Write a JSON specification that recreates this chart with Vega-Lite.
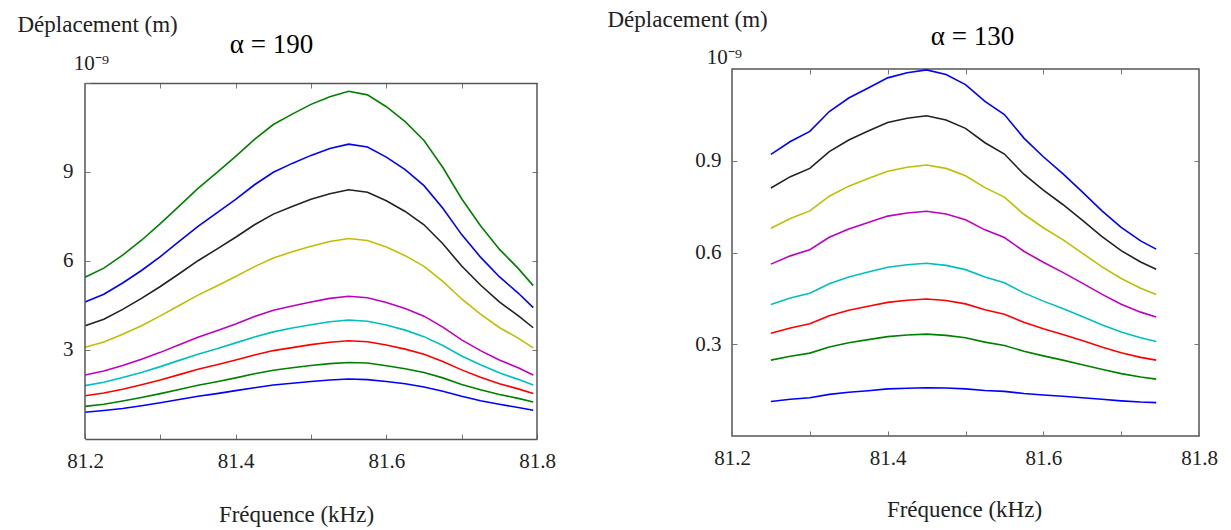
{
  "$schema": "https://vega.github.io/schema/vega-lite/v6.json",
  "padding": {"left": 17, "top": 7, "right": 5, "bottom": 2},
  "spacing": 50,
  "resolve": {"scale": {"x": "independent", "y": "independent"}},
  "config": {
    "view": {"stroke": "#555555", "strokeWidth": 1.5},
    "font": "Liberation Serif",
    "axis": {
      "labelFont": "Liberation Serif", "titleFont": "Liberation Serif",
      "labelColor": "#222222", "titleColor": "#222222", "titleFontWeight": "normal",
      "grid": false, "domain": false, "tickColor": "#777777", "tickSize": -5, "tickWidth": 1,
      "labelFlush": false, "labelOverlap": false, "labelFontSize": 21, "titleFontSize": 23
    }
  },
  "datasets": {
    "left": [
      {"f": 81.2, "s1": 0.90, "s2": 1.10, "s3": 1.46, "s4": 1.80, "s5": 2.16, "s6": 3.09, "s7": 3.82, "s8": 4.62, "s9": 5.45},
      {"f": 81.225, "s1": 0.96, "s2": 1.17, "s3": 1.55, "s4": 1.91, "s5": 2.29, "s6": 3.27, "s7": 4.04, "s8": 4.88, "s9": 5.76},
      {"f": 81.25, "s1": 1.03, "s2": 1.28, "s3": 1.68, "s4": 2.07, "s5": 2.48, "s6": 3.53, "s7": 4.37, "s8": 5.26, "s9": 6.20},
      {"f": 81.275, "s1": 1.12, "s2": 1.40, "s3": 1.83, "s4": 2.24, "s5": 2.69, "s6": 3.82, "s7": 4.74, "s8": 5.68, "s9": 6.70},
      {"f": 81.3, "s1": 1.22, "s2": 1.53, "s3": 1.99, "s4": 2.44, "s5": 2.92, "s6": 4.15, "s7": 5.14, "s8": 6.15, "s9": 7.26},
      {"f": 81.325, "s1": 1.33, "s2": 1.67, "s3": 2.17, "s4": 2.65, "s5": 3.18, "s6": 4.50, "s7": 5.57, "s8": 6.66, "s9": 7.85},
      {"f": 81.35, "s1": 1.44, "s2": 1.81, "s3": 2.35, "s4": 2.86, "s5": 3.43, "s6": 4.85, "s7": 6.01, "s8": 7.17, "s9": 8.45},
      {"f": 81.375, "s1": 1.53, "s2": 1.93, "s3": 2.50, "s4": 3.04, "s5": 3.65, "s6": 5.16, "s7": 6.40, "s8": 7.62, "s9": 8.98},
      {"f": 81.4, "s1": 1.63, "s2": 2.06, "s3": 2.66, "s4": 3.24, "s5": 3.88, "s6": 5.48, "s7": 6.80, "s8": 8.08, "s9": 9.53},
      {"f": 81.425, "s1": 1.73, "s2": 2.20, "s3": 2.83, "s4": 3.44, "s5": 4.13, "s6": 5.81, "s7": 7.22, "s8": 8.57, "s9": 10.10},
      {"f": 81.45, "s1": 1.82, "s2": 2.32, "s3": 2.98, "s4": 3.61, "s5": 4.34, "s6": 6.10, "s7": 7.58, "s8": 8.99, "s9": 10.60},
      {"f": 81.475, "s1": 1.88, "s2": 2.40, "s3": 3.08, "s4": 3.74, "s5": 4.48, "s6": 6.31, "s7": 7.84, "s8": 9.29, "s9": 10.95},
      {"f": 81.5, "s1": 1.94, "s2": 2.48, "s3": 3.18, "s4": 3.85, "s5": 4.62, "s6": 6.50, "s7": 8.08, "s8": 9.56, "s9": 11.28},
      {"f": 81.525, "s1": 1.99, "s2": 2.54, "s3": 3.26, "s4": 3.95, "s5": 4.74, "s6": 6.66, "s7": 8.27, "s8": 9.79, "s9": 11.54},
      {"f": 81.55, "s1": 2.02, "s2": 2.58, "s3": 3.31, "s4": 4.01, "s5": 4.81, "s6": 6.76, "s7": 8.40, "s8": 9.94, "s9": 11.72},
      {"f": 81.575, "s1": 2.00, "s2": 2.56, "s3": 3.28, "s4": 3.97, "s5": 4.76, "s6": 6.69, "s7": 8.32, "s8": 9.84, "s9": 11.60},
      {"f": 81.6, "s1": 1.94, "s2": 2.47, "s3": 3.17, "s4": 3.84, "s5": 4.60, "s6": 6.47, "s7": 8.03, "s8": 9.50, "s9": 11.20},
      {"f": 81.625, "s1": 1.86, "s2": 2.37, "s3": 3.03, "s4": 3.67, "s5": 4.40, "s6": 6.18, "s7": 7.67, "s8": 9.08, "s9": 10.70},
      {"f": 81.65, "s1": 1.75, "s2": 2.24, "s3": 2.86, "s4": 3.45, "s5": 4.14, "s6": 5.82, "s7": 7.22, "s8": 8.54, "s9": 10.06},
      {"f": 81.675, "s1": 1.61, "s2": 2.06, "s3": 2.61, "s4": 3.15, "s5": 3.77, "s6": 5.31, "s7": 6.58, "s8": 7.78, "s9": 9.15},
      {"f": 81.7, "s1": 1.44, "s2": 1.84, "s3": 2.33, "s4": 2.80, "s5": 3.34, "s6": 4.72, "s7": 5.83, "s8": 6.89, "s9": 8.10},
      {"f": 81.725, "s1": 1.29, "s2": 1.66, "s3": 2.08, "s4": 2.50, "s5": 2.98, "s6": 4.21, "s7": 5.19, "s8": 6.13, "s9": 7.19},
      {"f": 81.75, "s1": 1.17, "s2": 1.50, "s3": 1.86, "s4": 2.23, "s5": 2.66, "s6": 3.76, "s7": 4.62, "s8": 5.47, "s9": 6.40},
      {"f": 81.775, "s1": 1.06, "s2": 1.37, "s3": 1.69, "s4": 2.01, "s5": 2.40, "s6": 3.40, "s7": 4.16, "s8": 4.92, "s9": 5.75},
      {"f": 81.795, "s1": 0.97, "s2": 1.25, "s3": 1.53, "s4": 1.82, "s5": 2.16, "s6": 3.07, "s7": 3.75, "s8": 4.43, "s9": 5.17}
    ],
    "right": [
      {"f": 81.25, "s1": 0.113, "s2": 0.248, "s3": 0.336, "s4": 0.430, "s5": 0.562, "s6": 0.679, "s7": 0.811, "s8": 0.921},
      {"f": 81.275, "s1": 0.120, "s2": 0.261, "s3": 0.353, "s4": 0.451, "s5": 0.589, "s6": 0.711, "s7": 0.848, "s8": 0.963},
      {"f": 81.3, "s1": 0.125, "s2": 0.271, "s3": 0.367, "s4": 0.467, "s5": 0.609, "s6": 0.736, "s7": 0.875, "s8": 0.996},
      {"f": 81.325, "s1": 0.136, "s2": 0.291, "s3": 0.393, "s4": 0.498, "s5": 0.650, "s6": 0.784, "s7": 0.930, "s8": 1.061},
      {"f": 81.35, "s1": 0.143, "s2": 0.305, "s3": 0.411, "s4": 0.520, "s5": 0.677, "s6": 0.817, "s7": 0.968, "s8": 1.105},
      {"f": 81.375, "s1": 0.148, "s2": 0.315, "s3": 0.424, "s4": 0.536, "s5": 0.698, "s6": 0.842, "s7": 0.997, "s8": 1.138},
      {"f": 81.4, "s1": 0.154, "s2": 0.325, "s3": 0.437, "s4": 0.552, "s5": 0.719, "s6": 0.866, "s7": 1.025, "s8": 1.171},
      {"f": 81.425, "s1": 0.156, "s2": 0.330, "s3": 0.444, "s4": 0.560, "s5": 0.729, "s6": 0.879, "s7": 1.039, "s8": 1.188},
      {"f": 81.45, "s1": 0.158, "s2": 0.333, "s3": 0.448, "s4": 0.565, "s5": 0.735, "s6": 0.886, "s7": 1.047, "s8": 1.197},
      {"f": 81.475, "s1": 0.157, "s2": 0.329, "s3": 0.443, "s4": 0.558, "s5": 0.726, "s6": 0.875, "s7": 1.033, "s8": 1.182},
      {"f": 81.5, "s1": 0.154, "s2": 0.321, "s3": 0.432, "s4": 0.544, "s5": 0.707, "s6": 0.851, "s7": 1.006, "s8": 1.149},
      {"f": 81.525, "s1": 0.149, "s2": 0.307, "s3": 0.413, "s4": 0.520, "s5": 0.674, "s6": 0.812, "s7": 0.959, "s8": 1.094},
      {"f": 81.55, "s1": 0.146, "s2": 0.296, "s3": 0.398, "s4": 0.501, "s5": 0.649, "s6": 0.781, "s7": 0.922, "s8": 1.051},
      {"f": 81.575, "s1": 0.139, "s2": 0.277, "s3": 0.372, "s4": 0.468, "s5": 0.604, "s6": 0.725, "s7": 0.856, "s8": 0.974},
      {"f": 81.6, "s1": 0.134, "s2": 0.262, "s3": 0.351, "s4": 0.441, "s5": 0.568, "s6": 0.681, "s7": 0.804, "s8": 0.913},
      {"f": 81.625, "s1": 0.130, "s2": 0.248, "s3": 0.332, "s4": 0.417, "s5": 0.535, "s6": 0.642, "s7": 0.757, "s8": 0.858},
      {"f": 81.65, "s1": 0.125, "s2": 0.233, "s3": 0.312, "s4": 0.391, "s5": 0.500, "s6": 0.598, "s7": 0.706, "s8": 0.798},
      {"f": 81.675, "s1": 0.120, "s2": 0.218, "s3": 0.291, "s4": 0.364, "s5": 0.464, "s6": 0.554, "s7": 0.653, "s8": 0.737},
      {"f": 81.7, "s1": 0.115, "s2": 0.204, "s3": 0.272, "s4": 0.340, "s5": 0.431, "s6": 0.515, "s7": 0.606, "s8": 0.682},
      {"f": 81.725, "s1": 0.111, "s2": 0.193, "s3": 0.257, "s4": 0.321, "s5": 0.405, "s6": 0.483, "s7": 0.569, "s8": 0.638},
      {"f": 81.745, "s1": 0.109, "s2": 0.186, "s3": 0.248, "s4": 0.309, "s5": 0.389, "s6": 0.463, "s7": 0.545, "s8": 0.611}
    ]
  },
  "hconcat": [
    {
      "width": 452, "height": 370,
      "view": {"stroke": null},
      "layer": [
        {
          "data": {"name": "left"},
          "transform": [{"fold": ["s1", "s2", "s3", "s4", "s5", "s6", "s7", "s8", "s9"], "as": ["series", "v"]}],
          "mark": {"type": "line", "strokeWidth": 1.6},
          "encoding": {
            "x": {"field": "f", "type": "quantitative",
              "scale": {"domain": [81.2, 81.8], "nice": false, "zero": false},
              "axis": {"orient": "bottom", "values": [81.2, 81.3, 81.4, 81.5, 81.6, 81.7, 81.8],
                "labelExpr": "round(datum.value*10) % 2 == 0 ? format(datum.value, '.1f') : ''",
                "domain": true, "domainColor": "#555555", "domainWidth": 1.5,
                "labelPadding": 16, "title": "Fréquence (kHz)", "titleX": 211, "titleY": 82,
                "titleBaseline": "alphabetic", "titleAlign": "center"}},
            "y": {"field": "v", "type": "quantitative",
              "scale": {"domain": [0, 12.4719], "nice": false, "zero": false},
              "axis": {"orient": "left", "values": [3, 6, 9, 12],
                "labelExpr": "datum.value == 12 ? '10⁻⁹' : datum.label",
                "labelPadding": {"condition": {"test": "datum.value == 12", "value": -1}, "value": 17},
                "labelAlign": {"condition": {"test": "datum.value == 12", "value": "center"}, "value": "right"},
                "labelBaseline": {"condition": {"test": "datum.value == 12", "value": "bottom"}, "value": "middle"},
                "labelOffset": {"condition": {"test": "datum.value == 12", "value": -9}, "value": 0},
                "title": "Déplacement (m)", "titleAngle": 0, "titleAlign": "left", "titleBaseline": "alphabetic",
                "titleX": -68, "titleY": -38}},
            "color": {"field": "series", "type": "nominal",
              "scale": {"domain": ["s1", "s2", "s3", "s4", "s5", "s6", "s7", "s8", "s9"],
                "range": ["#0000ff", "#008000", "#ff0000", "#00bfbf", "#bf00bf", "#bfbf00", "#222222", "#0000ff", "#008000"]},
              "legend": null}
          }
        },
        {
          "data": {"values": [{"edge": 81.2}, {"edge": 81.8}]},
          "mark": {"type": "rule", "color": "#555555", "strokeWidth": 1.5},
          "encoding": {
            "x": {"field": "edge", "type": "quantitative",
              "scale": {"domain": [81.2, 81.8], "nice": false, "zero": false},
              "axis": {"orient": "top", "values": [81.3, 81.4, 81.5, 81.6, 81.7], "labels": false, "offset": -14,
                "domain": true, "domainColor": "#555555", "domainWidth": 1.5,
                "title": "α = 190", "titleFontSize": 27, "titleColor": "#000000", "titleX": 186, "titleY": -31,
                "titleBaseline": "alphabetic", "titleAlign": "center"}},
            "y": {"datum": 0, "type": "quantitative",
              "scale": {"domain": [0, 12.4719], "nice": false, "zero": false},
              "axis": {"orient": "right", "values": [3, 6, 9], "labels": false, "title": null}},
            "y2": {"datum": 12}
          }
        }
      ],
      "resolve": {"axis": {"x": "independent", "y": "independent"}}
    },
    {
      "width": 467, "height": 367,
      "data": {"name": "right"},
      "transform": [{"fold": ["s1", "s2", "s3", "s4", "s5", "s6", "s7", "s8"], "as": ["series", "v"]}],
      "layer": [
        {
          "mark": {"type": "line", "strokeWidth": 1.6},
          "encoding": {
            "x": {"field": "f", "type": "quantitative",
              "scale": {"domain": [81.2, 81.8], "nice": false, "zero": false},
              "axis": {"orient": "bottom", "values": [81.2, 81.3, 81.4, 81.5, 81.6, 81.7, 81.8],
                "labelExpr": "round(datum.value*10) % 2 == 0 ? format(datum.value, '.1f') : ''",
                "labelPadding": 16, "title": "Fréquence (kHz)", "titleX": 232, "titleY": 80,
                "titleBaseline": "alphabetic", "titleAlign": "center"}},
            "y": {"field": "v", "type": "quantitative",
              "scale": {"domain": [0, 1.2], "nice": false, "zero": false},
              "axis": {"orient": "left", "values": [0.3, 0.6, 0.9, 1.2],
                "labelExpr": "datum.value == 1.2 ? '10⁻⁹' : datum.label",
                "labelPadding": {"condition": {"test": "datum.value == 1.2", "value": 13}, "value": 16},
                "labelAlign": {"condition": {"test": "datum.value == 1.2", "value": "center"}, "value": "right"},
                "labelBaseline": {"condition": {"test": "datum.value == 1.2", "value": "bottom"}, "value": "middle"},
                "labelOffset": {"condition": {"test": "datum.value == 1.2", "value": -2}, "value": 0},
                "title": "Déplacement (m)", "titleAngle": 0, "titleAlign": "left", "titleBaseline": "alphabetic",
                "titleX": -125, "titleY": -43}},
            "color": {"field": "series", "type": "nominal",
              "scale": {"domain": ["s1", "s2", "s3", "s4", "s5", "s6", "s7", "s8", "s9"],
                "range": ["#0000ff", "#008000", "#ff0000", "#00bfbf", "#bf00bf", "#bfbf00", "#222222", "#0000ff", "#008000"]},
              "legend": null}
          }
        },
        {
          "mark": {"type": "point", "opacity": 0},
          "encoding": {
            "x": {"field": "f", "type": "quantitative",
              "scale": {"domain": [81.2, 81.8], "nice": false, "zero": false},
              "axis": {"orient": "top", "values": [81.3, 81.4, 81.5, 81.6, 81.7], "labels": false,
                "title": "α = 130", "titleFontSize": 27, "titleColor": "#000000", "titleX": 240, "titleY": -25,
                "titleBaseline": "alphabetic", "titleAlign": "center"}},
            "y": {"field": "v", "type": "quantitative",
              "scale": {"domain": [0, 1.2], "nice": false, "zero": false},
              "axis": {"orient": "right", "values": [0.3, 0.6, 0.9], "labels": false, "title": null}}
          }
        }
      ],
      "resolve": {"axis": {"x": "independent", "y": "independent"}}
    }
  ]
}
